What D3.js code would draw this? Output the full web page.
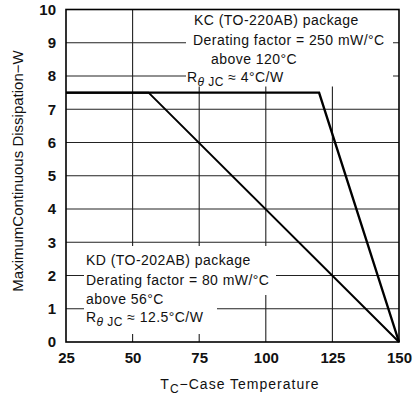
<!DOCTYPE html>
<html><head><meta charset="utf-8">
<script src="https://cdn.jsdelivr.net/npm/d3@7"></script>
<style>
body{margin:0;background:#fff;}
text{font-family:"Liberation Sans",Arial,Helvetica,sans-serif;fill:#111;}
</style></head>
<body><svg id="c" width="413" height="395"></svg>
<script>
const xTicks = [25, 50, 75, 100, 125, 150];
const yTicks = [0, 1, 2, 3, 4, 5, 6, 7, 8, 9, 10];
const kcTemp = [25, 120, 150];
const kcPower = [7.5, 7.5, 0];
const kdTemp = [25, 56, 150];
const kdPower = [7.5, 7.5, 0];
const kcNote = ["KC (TO-220AB) package", "Derating factor = 250 mW/°C", "above 120°C", "4°C/W"];
const kdNote = ["KD (TO-202AB) package", "Derating factor = 80 mW/°C", "above 56°C", "12.5°C/W"];

const svg = d3.select("#c");
const x = d3.scaleLinear().domain([25, 150]).range([66, 399]);
const y = d3.scaleLinear().domain([0, 10]).range([342, 9.5]);

// grid
const g = svg.append("g");
g.selectAll(".vg").data(xTicks.slice(1, -1)).enter().append("line")
  .attr("x1", d => x(d)).attr("x2", d => x(d)).attr("y1", y(10)).attr("y2", y(0))
  .attr("stroke", "#222").attr("stroke-width", 1.1);
g.selectAll(".hg").data(yTicks.slice(1, -1)).enter().append("line")
  .attr("x1", x(25)).attr("x2", x(150)).attr("y1", d => y(d)).attr("y2", d => y(d))
  .attr("stroke", "#222").attr("stroke-width", 1.1);

// white boxes behind notes
svg.append("rect").attr("x", 186).attr("y", y(10)).attr("width", 207).attr("height", 77).attr("fill", "#fff");
svg.append("rect").attr("x", 84).attr("y", 246).attr("width", 192).attr("height", 49).attr("fill", "#fff");
svg.append("rect").attr("x", 84).attr("y", 294).attr("width", 133).attr("height", 40).attr("fill", "#fff");

// curves
const line = d3.line().x(d => x(d[0])).y(d => y(d[1]));
svg.append("path").datum(kdTemp.map((t, i) => [t, kdPower[i]])).attr("d", line)
  .attr("fill", "none").attr("stroke", "#000").attr("stroke-width", 2);
svg.append("path").datum(kcTemp.map((t, i) => [t, kcPower[i]])).attr("d", line)
  .attr("fill", "none").attr("stroke", "#000").attr("stroke-width", 2.4);

// frame
svg.append("rect").attr("x", x(25)).attr("y", y(10)).attr("width", x(150) - x(25)).attr("height", y(0) - y(10))
  .attr("fill", "none").attr("stroke", "#000").attr("stroke-width", 1.6);

// axes (labels only, via d3 axes)
const xAxis = svg.append("g").attr("transform", `translate(0,${y(0)})`)
  .call(d3.axisBottom(x).tickValues(xTicks).tickSize(0).tickPadding(7).tickFormat(d3.format("d")));
const yAxis = svg.append("g").attr("transform", `translate(${x(25)},0)`)
  .call(d3.axisLeft(y).tickValues(yTicks).tickSize(0).tickPadding(10).tickFormat(d3.format("d")));
[xAxis, yAxis].forEach(a => {
  a.select(".domain").remove();
  a.selectAll("text").attr("font-family", "Liberation Sans, Arial, sans-serif")
    .attr("font-size", 15).attr("font-weight", "bold").attr("fill", "#111");
});
xAxis.selectAll("text").attr("dy", "0.9em");

// notes
const fs = 14;
function note(lines, xs, ys) {
  lines.forEach((s, i) => {
    const t = svg.append("text").attr("x", xs[i]).attr("y", ys[i]).attr("font-size", fs)
      .style("letter-spacing", "0.45px");
    if (i === 3) {
      t.append("tspan").text("R");
      t.append("tspan").attr("font-size", 12).attr("dy", 4).attr("font-style", "italic").text("θ");
      t.append("tspan").attr("font-size", 12).text(" JC");
      t.append("tspan").attr("dy", -4).text(" ≈ " + s);
    } else t.text(s);
  });
}
note(kcNote, [194, 193, 211, 187], [25, 45, 64, 82]);
note(kdNote, [86, 86, 86, 86], [265, 285, 304, 322]);

// axis titles
svg.append("text").attr("transform", "translate(23,171) rotate(-90)").attr("text-anchor", "middle")
  .attr("font-size", 15).text("MaximumContinuous Dissipation−W");
const xt = svg.append("text").attr("x", 240).attr("y", 389).attr("text-anchor", "middle")
  .attr("font-size", 14).style("letter-spacing", "1px");
xt.append("tspan").text("T");
xt.append("tspan").attr("font-size", 12).attr("dy", 4).text("C");
xt.append("tspan").attr("dy", -4).text("−Case Temperature");
</script></body></html>
